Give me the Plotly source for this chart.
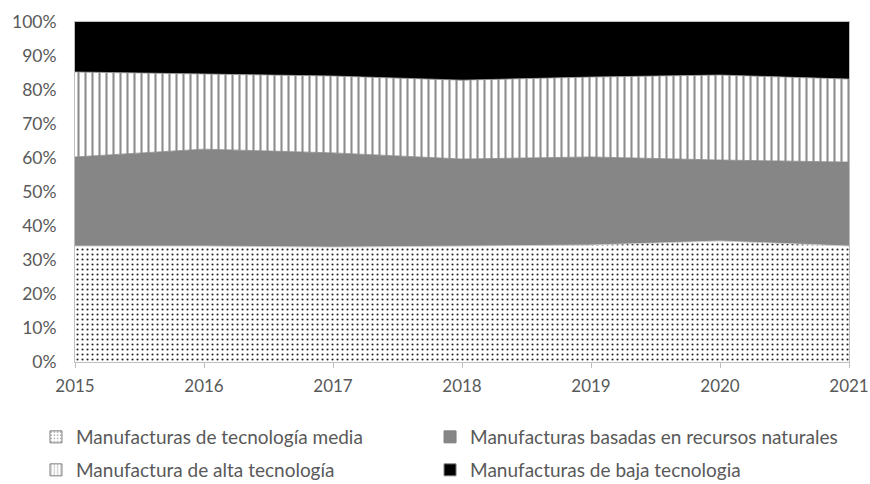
import plotly.graph_objects as go

years = [2015, 2016, 2017, 2018, 2019, 2020, 2021]
media = [34.1, 34.1, 33.8, 34.1, 34.4, 35.6, 34.1]
recursos = [26.2, 28.5, 27.7, 25.6, 25.9, 23.8, 24.7]
alta = [25.0, 22.1, 22.6, 23.2, 23.5, 25.0, 24.4]
baja = [14.7, 15.3, 15.9, 17.1, 16.2, 15.6, 16.8]

names = ["Manufacturas de tecnología media",
         "Manufacturas basadas en recursos naturales",
         "Manufactura de alta tecnología",
         "Manufacturas de baja tecnologia"]

dot_pat = dict(shape=".", size=5, solidity=0.14, fgcolor="#222222",
               bgcolor="white", fillmode="replace")
line_pat = dict(shape="|", size=7, solidity=0.3, fgcolor="#8c8c8c",
                bgcolor="white", fillmode="replace")

fig = go.Figure()
fig.add_trace(go.Scatter(
    x=years, y=media, name=names[0], mode="lines", stackgroup="one",
    line=dict(width=0.8, color="#d0d0d0"), fillcolor="white",
    fillpattern=dot_pat, showlegend=False))
fig.add_trace(go.Scatter(
    x=years, y=recursos, name=names[1], mode="lines", stackgroup="one",
    line=dict(width=0.8, color="#868686"), fillcolor="#868686", showlegend=False))
fig.add_trace(go.Scatter(
    x=years, y=alta, name=names[2], mode="lines", stackgroup="one",
    line=dict(width=0.8, color="#a0a0a0"), fillcolor="white",
    fillpattern=line_pat, showlegend=False))
fig.add_trace(go.Scatter(
    x=years, y=baja, name=names[3], mode="lines", stackgroup="one",
    line=dict(width=0.8, color="#000000"), fillcolor="#000000", showlegend=False))

# legend proxies (square swatches like the original)
proxies = [
    dict(color="white", pattern=dict(shape=".", size=4, solidity=0.2, fgcolor="#333333", bgcolor="white")),
    dict(color="#868686"),
    dict(color="white", pattern=dict(shape="|", size=4, solidity=0.35, fgcolor="#8c8c8c", bgcolor="white")),
    dict(color="#000000"),
]
legend_ids = ["legend", "legend2", "legend3", "legend4"]
for nm, mk, lg in zip(names, proxies, legend_ids):
    m = dict(color=mk["color"], line=dict(color="#7f7f7f", width=1))
    if "pattern" in mk:
        m["pattern"] = mk["pattern"]
    fig.add_trace(go.Bar(x=[None], y=[None], name=nm, marker=m,
                         showlegend=True, legend=lg, hoverinfo="skip"))

legfont = dict(family="Lato, Calibri, sans-serif", size=19, color="#595959")
col_x = [-0.0504, 0.4587]
row_y = [-0.2206, -0.3176]
pos = [(col_x[0], row_y[0]), (col_x[1], row_y[0]), (col_x[0], row_y[1]), (col_x[1], row_y[1])]
leg_layout = {}
for lg, (lx, ly) in zip(legend_ids, pos):
    leg_layout[lg] = dict(x=lx, xanchor="left", y=ly, yanchor="middle",
                          font=legfont, bgcolor="rgba(0,0,0,0)", itemwidth=30)

fig.update_layout(
    width=870, height=484,
    margin=dict(l=75, r=21, t=22, b=122, autoexpand=False),
    paper_bgcolor="white", plot_bgcolor="white",
    font=dict(family="Lato, Calibri, sans-serif", size=17.5, color="#595959"),
    showlegend=True,
    xaxis=dict(range=[2015, 2021], tickmode="array", tickvals=years,
               ticks="outside", ticklen=5, tickcolor="#bfbfbf",
               showline=True, linecolor="#bfbfbf", mirror=True,
               showgrid=False, zeroline=False, automargin=False,
               ticklabelstandoff=4, ticklabeloverflow="allow",
               tickfont=dict(size=17)),
    yaxis=dict(range=[0, 100], dtick=10, ticksuffix="%",
               showline=True, linecolor="#bfbfbf", mirror=True,
               showgrid=False, zeroline=False, ticks="", automargin=False,
               ticklabelstandoff=14),
    **leg_layout,
)

fig.write_html("out.html",
               config={"displayModeBar": False},
               post_script="document.body.style.margin='0';document.body.style.overflow='hidden';")
